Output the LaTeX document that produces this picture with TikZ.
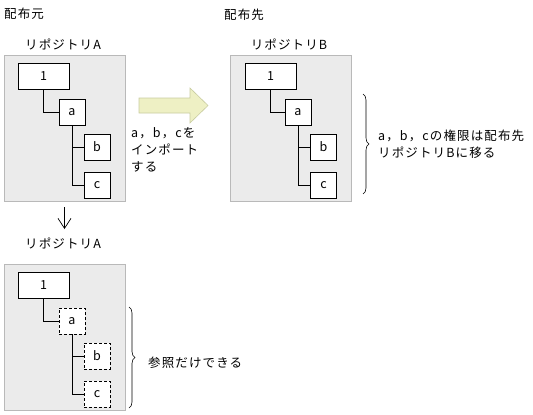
\documentclass[tikz,border=0pt]{standalone}
\usepackage{fontspec}
\setmainfont{Noto Sans CJK JP}[LetterSpace=9]
\usetikzlibrary{decorations.pathreplacing,arrows.meta}
\definecolor{panelfill}{RGB}{235,235,235}
\definecolor{paneldraw}{RGB}{185,185,185}
\definecolor{arrfill}{RGB}{238,240,196}
\definecolor{arrdraw}{RGB}{200,204,160}
\begin{document}
\begin{tikzpicture}[x=1pt,y=-1pt,
  font=\fontsize{12.5}{17}\selectfont,
  panel/.style={draw=paneldraw,fill=panelfill,line width=0.8pt,minimum width=121pt,minimum height=146pt,inner sep=0pt},
  item/.style={draw=black,fill=white,line width=0.8pt,inner sep=0pt,minimum height=26pt,minimum width=26pt},
  wide/.style={item,minimum width=51pt},
  ghost/.style={item,dashed,dash pattern=on 3pt off 2pt},
  link/.style={draw=black,line width=0.8pt},
  label/.style={inner sep=0pt},
  bracestyle/.style={decorate,decoration={brace,amplitude=6pt},line width=0.6pt}
]
\useasboundingbox (0,0) rectangle (533,415);

% titles
\node[label,anchor=west] (src) at (4,14) {配布元};
\node[label,anchor=west] (dst) at (224,15) {配布先};

% panel A (top)
\node[label] (tA) at (63,44) {リポジトリA};
\node[panel] (pA) at (64.5,128) {};
\node[wide] (A1) at (43.5,76) {1};
\node[item] (Aa) at (72,112) {a};
\node[item] (Ab) at (97,147) {b};
\node[item] (Ac) at (97,185) {c};
\draw[link] (A1.south) |- (Aa.west);
\draw[link] (Aa.south) |- (Ac.west);
\draw[link] (Aa.south |- Ab.west) -- (Ab.west);

% import arrow
\draw[fill=arrfill,draw=arrdraw,line width=0.6pt]
  (139,98) -- (190,98) -- (190,88) -- (208,105.5) -- (190,123) -- (190,113) -- (139,113) -- cycle;
\node[label,anchor=north west,align=left] (imp) at (131,127) {a，b，cを\\インポート\\する};

% panel B
\node[label] (tB) at (289,44) {リポジトリB};
\node[panel] (pB) at (291,128) {};
\node[wide] (B1) at (270.5,76) {1};
\node[item] (Ba) at (298,112) {a};
\node[item] (Bb) at (323.5,147) {b};
\node[item] (Bc) at (323.5,185) {c};
\draw[link] (B1.south) |- (Ba.west);
\draw[link] (Ba.south) |- (Bc.west);
\draw[link] (Ba.south |- Bb.west) -- (Bb.west);

\coordinate (bBt) at (363,94);
\coordinate (bBb) at (363,194);
\draw[bracestyle] (bBt) -- (bBb);
\node[label,anchor=west,align=left] (txB) at (378,144) {a，b，cの権限は配布先\\リポジトリBに移る};

% down arrow
\draw[line width=0.7pt,-{Straight Barb[length=10pt,width=13pt]}] (pA.south |- 0,207) -- (pA.south |- 0,229);

% panel A (bottom)
\node[label] (tA2) at (63,243) {リポジトリA};
\node[panel] (pA2) at (64.5,337) {};
\node[wide] (C1) at (43.5,285) {1};
\node[ghost] (Ca) at (72,321) {a};
\node[ghost] (Cb) at (97,356) {b};
\node[ghost] (Cc) at (97,394) {c};
\draw[link] (C1.south) |- (Ca.west);
\draw[link] (Ca.south) |- (Cc.west);
\draw[link] (Ca.south |- Cb.west) -- (Cb.west);

\coordinate (bCt) at (129,307);
\coordinate (bCb) at (129,408);
\draw[bracestyle] (bCt) -- (bCb);
\node[label,anchor=west] (txC) at (148,363) {参照だけできる};
\end{tikzpicture}
\end{document}
